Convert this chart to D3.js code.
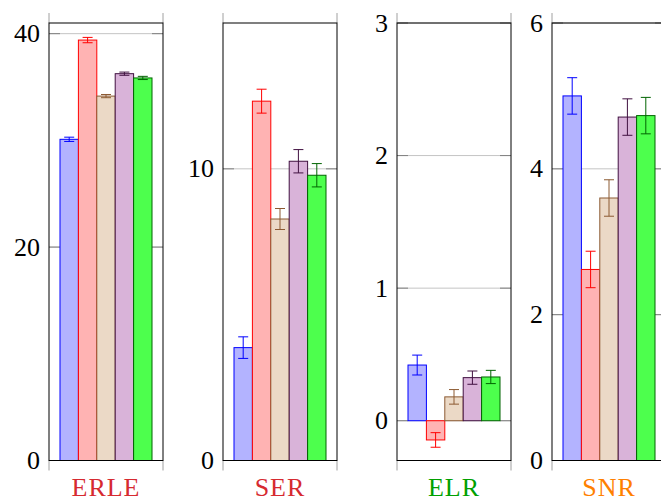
<!DOCTYPE html>
<html>
<head>
<meta charset="utf-8">
<script src="https://cdn.jsdelivr.net/npm/d3@7"></script>
<style>
  html, body { margin: 0; padding: 0; background: #fff; }
  svg { display: block; }
</style>
</head>
<body>
<svg id="chart" width="661" height="502"></svg>
<script>
// ---- data ----
const metrics = ["ERLE", "SER", "ELR", "SNR"];
const methods = ["M1", "M2", "M3", "M4", "M5"];
const erleMean = [30.1, 39.4, 34.15, 36.25, 35.85];
const erleErr  = [0.2, 0.25, 0.15, 0.15, 0.15];
const serMean  = [3.87, 12.32, 8.28, 10.26, 9.78];
const serErr   = [0.37, 0.41, 0.36, 0.40, 0.40];
const elrMean  = [0.42, -0.145, 0.18, 0.325, 0.33];
const elrErr   = [0.075, 0.055, 0.055, 0.05, 0.05];
const snrMean  = [5.0, 2.62, 3.6, 4.71, 4.73];
const snrErr   = [0.25, 0.25, 0.25, 0.25, 0.25];
const erleTicks = [0, 20, 40];
const serTicks  = [0, 10];
const elrTicks  = [0, 1, 2, 3];
const snrTicks  = [0, 2, 4, 6];

// ---- styles ----
const fills   = ["#b3b3ff", "#ffb3b3", "#ebd9c6", "#d9b3d9", "#4dff4d"];
const strokes = ["#0000ff", "#ff0000", "#8c5a32", "#401040", "#006400"];
const labelColors = ["#d62a30", "#d62a30", "#00a000", "#ff8000"];

const panels = [
  { name: metrics[0], mean: erleMean, err: erleErr, ticks: erleTicks, domain: [0, 41],    left: 49,  width: 114 },
  { name: metrics[1], mean: serMean,  err: serErr,  ticks: serTicks,  domain: [0, 15],    left: 223, width: 114 },
  { name: metrics[2], mean: elrMean,  err: elrErr,  ticks: elrTicks,  domain: [-0.3, 3],  left: 397, width: 114 },
  { name: metrics[3], mean: snrMean,  err: snrErr,  ticks: snrTicks,  domain: [0, 6],     left: 552, width: 114 }
];

const plotTop = 23, plotBottom = 460.5;
const svg = d3.select("#chart");
const font = "'Liberation Serif', 'DejaVu Serif', serif";

panels.forEach((p, pi) => {
  const L = p.left, R = p.left + p.width;
  const y = d3.scaleLinear().domain(p.domain).range([plotBottom, plotTop]);
  const x = d3.scaleBand().domain(methods).range([L + 11, R - 11]).padding(0);
  const g = svg.append("g");

  // grid
  g.selectAll("line.grid").data(p.ticks).enter().append("line")
    .attr("x1", L).attr("x2", R)
    .attr("y1", d => y(d)).attr("y2", d => y(d))
    .attr("stroke", "#c4c4c4").attr("stroke-width", 1);

  // y ticks inside both sides
  p.ticks.forEach(t => {
    g.append("line").attr("x1", L).attr("x2", L + 11).attr("y1", y(t)).attr("y2", y(t))
      .attr("stroke", "#808080").attr("stroke-width", 1);
    g.append("line").attr("x1", R - 11).attr("x2", R).attr("y1", y(t)).attr("y2", y(t))
      .attr("stroke", "#808080").attr("stroke-width", 1);
  });

  // x edge ticks outside (top and bottom)
  [L, R].forEach(xx => {
    g.append("line").attr("x1", xx).attr("x2", xx).attr("y1", plotTop - 10).attr("y2", plotTop)
      .attr("stroke", "#a0a0a0").attr("stroke-width", 1);
    g.append("line").attr("x1", xx).attr("x2", xx).attr("y1", plotBottom).attr("y2", plotBottom + 10)
      .attr("stroke", "#a0a0a0").attr("stroke-width", 1);
  });

  // bars
  const zero = y(0);
  g.selectAll("rect.bar").data(p.mean).enter().append("rect")
    .attr("x", (d, i) => x(methods[i]))
    .attr("width", x.bandwidth())
    .attr("y", d => Math.min(y(d), zero))
    .attr("height", d => Math.abs(y(d) - zero))
    .attr("fill", (d, i) => fills[i])
    .attr("stroke", (d, i) => strokes[i])
    .attr("stroke-width", 1);

  // error bars
  p.mean.forEach((m, i) => {
    const cx = x(methods[i]) + x.bandwidth() / 2;
    const e = p.err[i];
    const c = strokes[i];
    g.append("line").attr("x1", cx).attr("x2", cx).attr("y1", y(m - e)).attr("y2", y(m + e))
      .attr("stroke", c).attr("stroke-width", 1);
    [m - e, m + e].forEach(v => {
      g.append("line").attr("x1", cx - 5).attr("x2", cx + 5).attr("y1", y(v)).attr("y2", y(v))
        .attr("stroke", c).attr("stroke-width", 1);
    });
  });

  // box
  g.append("rect").attr("x", L).attr("y", plotTop).attr("width", p.width).attr("height", plotBottom - plotTop)
    .attr("fill", "none").attr("stroke", "#000").attr("stroke-width", 1);

  // tick labels
  g.selectAll("text.tl").data(p.ticks).enter().append("text")
    .attr("x", L - 9).attr("y", d => y(d))
    .attr("text-anchor", "end").attr("dominant-baseline", "central")
    .attr("font-family", font).attr("font-size", 26).attr("fill", "#000")
    .text(d => d);

  // label
  g.append("text")
    .attr("x", (L + R) / 2).attr("y", 496)
    .attr("text-anchor", "middle")
    .attr("font-family", font).attr("font-size", 26)
    .attr("letter-spacing", 1)
    .attr("fill", labelColors[pi])
    .text(p.name);
});
</script>
</body>
</html>
